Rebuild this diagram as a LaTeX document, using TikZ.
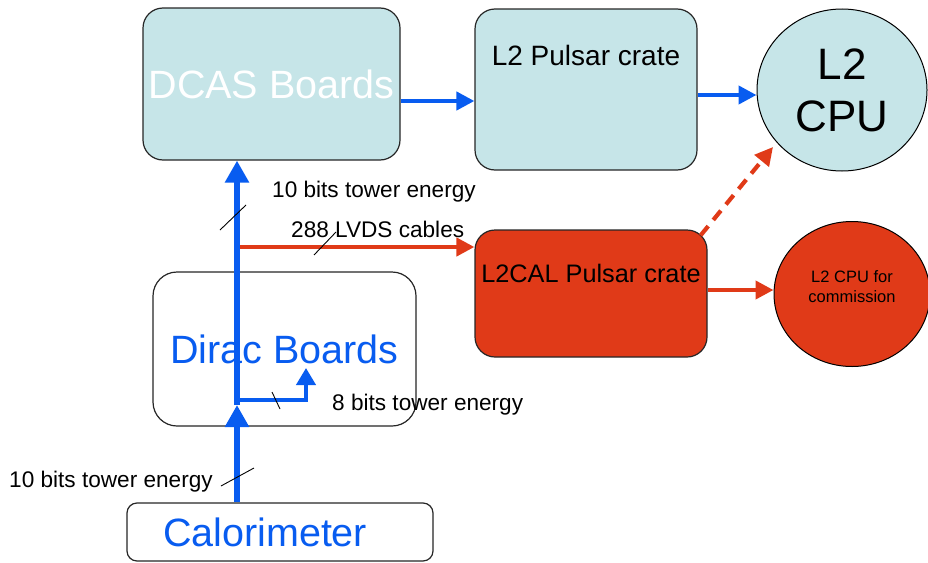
\documentclass[tikz,border=0pt]{standalone}
\usepackage{fontspec}
\setmainfont{Liberation Sans}
\usetikzlibrary{arrows.meta,shapes.geometric}
\definecolor{sigblue}{RGB}{8,92,240}
\definecolor{cratered}{RGB}{224,58,24}
\definecolor{cratecyan}{RGB}{198,229,232}
\begin{document}
\begin{tikzpicture}[x=1pt,y=-1pt,
  board/.style={draw=black!85,line width=1.2pt,rounded corners=20pt,inner sep=0pt},
  cpu/.style={ellipse,draw=black,line width=1pt,inner sep=0pt,align=center},
  lbl/.style={inner sep=0pt,anchor=base west,font=\fontsize{22.6}{27}\selectfont},
  bus/.style={draw=sigblue,line width=6.5pt,-{Triangle[length=22pt,width=23pt]}},
  link/.style={line width=4.2pt,-{Triangle[length=18pt,width=18pt]}},
  tick/.style={draw=black,line width=0.9pt}]
\useasboundingbox (0,0) rectangle (928,562);
\node[board,fill=cratecyan,minimum width=257pt,minimum height=152pt,text=white,font=\fontsize{39.5}{47}\selectfont] (dcas) at (271.5,84) {DCAS Boards};
\node[board,fill=cratecyan,minimum width=222pt,anchor=base,text height=56pt,text depth=105pt,font=\fontsize{28}{34}\selectfont] (pulsar) at (586,65) {L2 Pulsar crate};
\node[cpu,fill=cratecyan,minimum width=170pt,minimum height=162pt,font=\fontsize{44}{52}\selectfont] (l2cpu) at (842,90) {L2\\CPU};
\node[board,fill=cratered,minimum width=232pt,anchor=base,text height=52pt,text depth=75pt,font=\fontsize{25.3}{30}\selectfont] (l2cal) at (591,282) {L2CAL Pulsar crate};
\node[cpu,fill=cratered,minimum width=156pt,minimum height=145pt,text depth=14pt,font=\fontsize{16.5}{20}\selectfont] (commission) at (852,294) {L2 CPU for\\commission};
\node[board,rounded corners=24pt,fill=white,minimum width=263pt,minimum height=154pt,text=sigblue,font=\fontsize{39.5}{47}\selectfont] (dirac) at (284.5,349) {Dirac Boards};
\node[board,rounded corners=10pt,fill=white,text width=234pt,inner xsep=36pt,align=left,minimum height=58pt,text=sigblue,font=\fontsize{39.5}{47}\selectfont] (calo) at (280,532) {Calorimeter};

\coordinate (split) at (237,405);
\coordinate (tap) at (237,400);
\coordinate (lvds) at (237,247);
\coordinate (eightout) at (306,368);
\coordinate (dashend) at (773,147);

\draw[link,draw=cratered] (lvds) -- (lvds -| l2cal.west);
\draw[bus] (calo.north -| split) -- (split);
\draw[bus] (split) -- (split |- dcas.south);
\draw[draw=sigblue,line width=4pt,-{Triangle[length=17pt,width=19pt]}] (tap) -| (eightout);
\draw[link,draw=sigblue] ([yshift=-17pt]dcas.east) -- ([yshift=-17pt]dcas.east -| pulsar.west);
\draw[link,draw=sigblue] ([yshift=-5.5pt]pulsar.east) -- ([yshift=-5.5pt]pulsar.east -| l2cpu.west);
\draw[link,draw=cratered,dash pattern=on 12pt off 8pt] ([xshift=-7pt,yshift=-6pt]l2cal.north east) -- (dashend);
\draw[link,draw=cratered] ([yshift=3.5pt]l2cal.east) -- ([yshift=3.5pt]l2cal.east -| commission.west);

\draw[tick] (220,230) -- (246,205);
\draw[tick] (314,255) -- (336,232);
\draw[tick] (272,392) -- (280,409);
\draw[tick] (221,486) -- (254,468);

\node[lbl] (uptext) at (272,197) {10 bits tower energy};
\node[lbl] (cabletext) at (291,237) {288 LVDS cables};
\node[lbl] (eighttext) at (332,410) {8 bits tower energy};
\node[lbl] (lowtext) at (9,487) {10 bits tower energy};
\end{tikzpicture}
\end{document}
